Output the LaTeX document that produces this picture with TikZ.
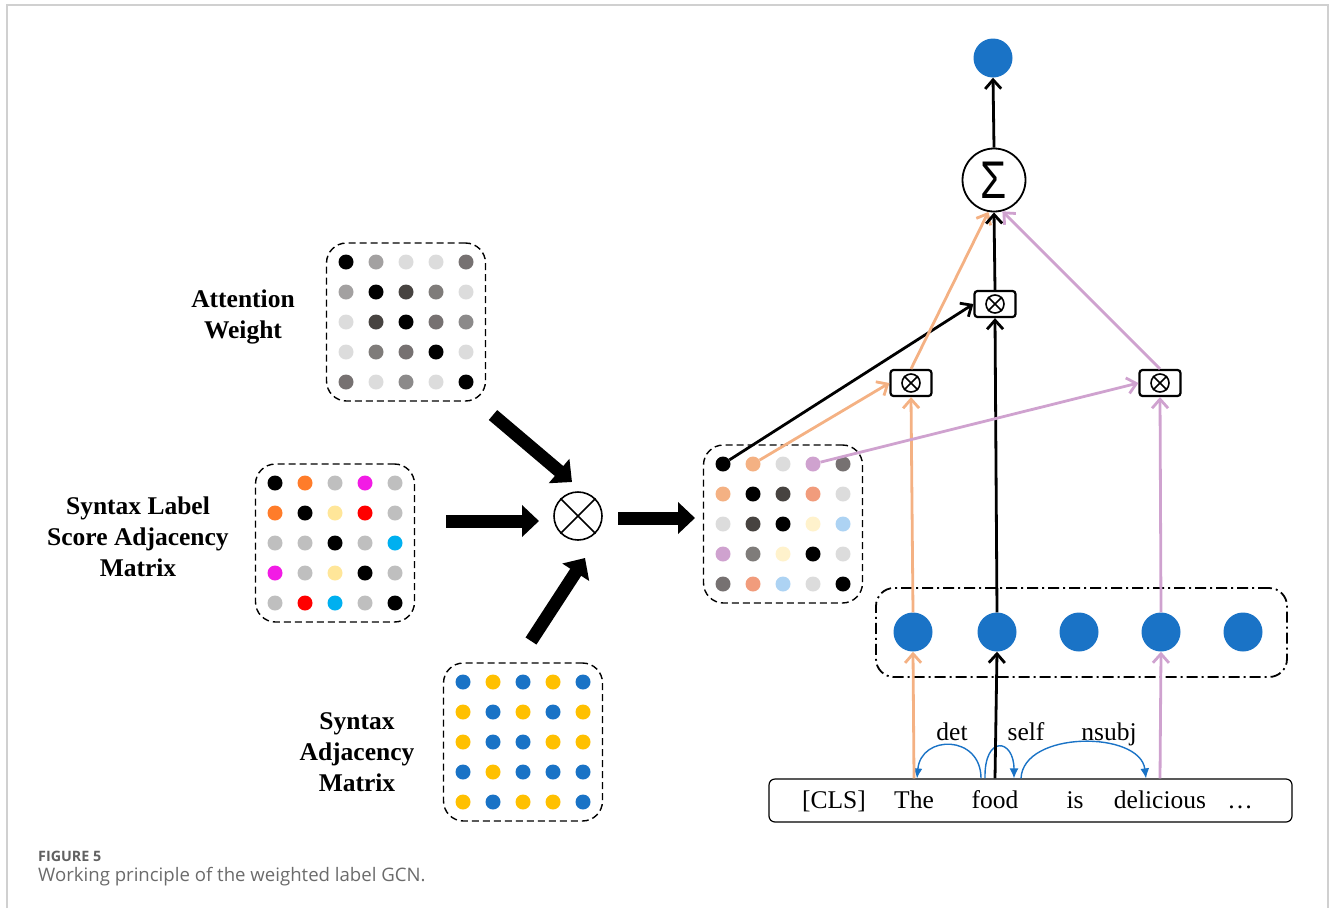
\documentclass[tikz,border=0pt]{standalone}
\usepackage{fontspec}
\setmainfont{Liberation Serif}
\newfontfamily\capfont{Open Sans}
\newfontfamily\sigfont{Liberation Sans}
\usetikzlibrary{arrows.meta,calc}

\definecolor{gA}{HTML}{DCDCDC}
\definecolor{gB}{HTML}{A3A1A1}
\definecolor{gC}{HTML}{767171}
\definecolor{gD}{HTML}{474340}
\definecolor{gE}{HTML}{7F7C7A}
\definecolor{gF}{HTML}{8C8A8A}
\definecolor{lgray}{HTML}{BFBFBF}
\definecolor{sorange}{HTML}{FF7C2A}
\definecolor{smag}{HTML}{F21BE5}
\definecolor{syel}{HTML}{FFE699}
\definecolor{sred}{HTML}{FF0000}
\definecolor{scyan}{HTML}{00B0F0}
\definecolor{ablue}{HTML}{1A73C6}
\definecolor{ayel}{HTML}{FFC000}
\definecolor{peach}{HTML}{F4B183}
\definecolor{lilac}{HTML}{CFA2CF}
\definecolor{salmon}{HTML}{F19C7C}
\definecolor{cream}{HTML}{FFF2CC}
\definecolor{lblue}{HTML}{ADD3F3}
\definecolor{framegray}{HTML}{D0D0D0}

\tikzset{
	dot/.style={circle, inner sep=0pt, minimum size=15pt},
	bigdot/.style={circle, inner sep=0pt, minimum size=39pt, fill=ablue},
	matbox/.style={draw, dash pattern=on 7pt off 4pt, line width=1.4pt, rounded corners=20pt, minimum width=159pt, minimum height=158pt},
	fatarrow/.style={line width=13pt, -{Triangle[length=17pt,width=31pt]}},
	link/.style={line width=2.8pt, -{Straight Barb[length=9pt,width=16pt]}},
	deparc/.style={ablue, line width=1.4pt, -{Latex[length=10pt,width=9pt]}},
	prodbox/.style={draw, line width=2.2pt, rounded corners=3pt, minimum width=41pt, minimum height=26pt, inner sep=0pt},
	label/.style={font=\bfseries\fontsize{25.5}{31}\selectfont, align=center},
	word/.style={font=\fontsize{25.5}{31}\selectfont, anchor=base}
}

% one row of five coloured dots
\def\dotrow#1#2#3#4{\foreach \c [count=\j] in {#4} \node[dot, fill=\c] (#1-\j) at ({#2+30*(\j-1)}, {#3}) {};}
% a dashed 5x5 matrix
\newcommand{\dotmatrix}[8]{%
	\node[matbox] (#1) at ({#2+60}, {#3+60}) {};
	\dotrow{#1-1}{#2}{#3}{#4}
	\dotrow{#1-2}{#2}{#3+30}{#5}
	\dotrow{#1-3}{#2}{#3+60}{#6}
	\dotrow{#1-4}{#2}{#3+90}{#7}
	\dotrow{#1-5}{#2}{#3+120}{#8}}
% small boxed otimes
\newcommand{\prodnode}[3]{%
	\node[prodbox] (#1) at (#2, #3) {};
	\node[draw, circle, line width=1.6pt, minimum size=18pt, inner sep=0pt] (#1c) at (#1) {};
	\draw[line width=1.6pt] (#1c.north west) -- (#1c.south east) (#1c.north east) -- (#1c.south west);}

\begin{document}
\begin{tikzpicture}[x=1pt, y=-1pt]
			%%%%% START %%%%%
			\useasboundingbox (0,0) rectangle (1330,908);
			\draw[framegray, line width=1.5pt] (7,908) -- (7,5) -- (1328,5) -- (1328,908);
			
			%%%%% input matrices
			\dotmatrix{att}{346}{262}{black,gB,gA,gA,gC}{gB,black,gD,gE,gA}{gA,gD,black,gC,gF}{gA,gE,gC,black,gA}{gC,gA,gF,gA,black}
			\node[label] (attlabel) at (243,317) {Attention\\Weight};
			
			\dotmatrix{lab}{275}{483}{black,sorange,lgray,smag,lgray}{sorange,black,syel,sred,lgray}{lgray,lgray,black,lgray,scyan}{smag,lgray,syel,black,lgray}{lgray,sred,scyan,lgray,black}
			\node[label] (lablabel) at (138,537) {Syntax Label\\Score Adjacency\\Matrix};
			
			\dotmatrix{adj}{463}{682}{ablue,ayel,ablue,ayel,ablue}{ayel,ablue,ayel,ablue,ayel}{ayel,ablue,ablue,ayel,ayel}{ablue,ayel,ablue,ablue,ablue}{ayel,ablue,ayel,ayel,ablue}
			\node[label] (adjlabel) at (357,752) {Syntax\\Adjacency\\Matrix};
			
			%%%%% product
			\node[draw, circle, line width=1.6pt, minimum size=48pt, inner sep=0pt] (mul) at (578,516) {};
			\draw[line width=1.6pt] (mul.north west) -- (mul.south east) (mul.north east) -- (mul.south west);
			
			\coordinate (attout) at (493,415);
			\coordinate (attin) at (572,482);
			\coordinate (labout) at (446,521);
			\coordinate (labin) at (539,521);
			\coordinate (adjout) at (531,641);
			\coordinate (adjin) at (585,558);
			\coordinate (mulout) at (618,518);
			\coordinate (resin) at (695,518);
			\draw[fatarrow] (attout) -- (attin);
			\draw[fatarrow] (labout) -- (labin);
			\draw[fatarrow] (adjout) -- (adjin);
			\draw[fatarrow] (mulout) -- (resin);
			
			\dotmatrix{res}{723}{464}{black,peach,gA,lilac,gC}{peach,black,gD,salmon,gA}{gA,gD,black,cream,lblue}{lilac,gE,cream,black,gA}{gC,salmon,lblue,gA,black}
			
			%%%%% sentence
			\node[draw, line width=1.2pt, rounded corners=6pt, minimum width=523pt, minimum height=43pt] (sent) at (1030.5,800.5) {};
			\node[word] (cls) at (834,808) {[CLS]};
			\node[word] (the) at (914,808) {The};
			\node[word] (food) at (995,808) {food};
			\node[word] (is) at (1075,808) {is};
			\node[word] (deli) at (1160,808) {delicious};
			\node[word] (etc) at (1240,808) {\dots};
			
			\node[word] (det) at (952,740) {det};
			\node[word] (self) at (1026,740) {self};
			\node[word] (nsubj) at (1109,740) {nsubj};
			
			\draw[deparc] ($(food |- sent.north)+(-14,0)$) .. controls +(0,-44) and +(4,-44) .. ($(the |- sent.north)+(3,0)$);
			\draw[deparc] ($(food |- sent.north)+(-10,0)$) .. controls +(-1,-44) and +(0,-40) .. ($(food |- sent.north)+(19,0)$);
			\draw[deparc] ($(food |- sent.north)+(26,0)$) .. controls +(2,-48) and +(-6,-48) .. ($(deli |- sent.north)+(-14,0)$);
			
			%%%%% hidden states
			\node[draw, line width=1.8pt, rounded corners=18pt, dash pattern=on 11pt off 4pt on 2pt off 4pt, minimum width=411pt, minimum height=89pt] (hbox) at (1081.5,632.5) {};
			\node[bigdot] (h1) at (913,632) {};
			\node[bigdot] (h2) at (997,632) {};
			\node[bigdot] (h3) at (1079,632) {};
			\node[bigdot] (h4) at (1161,632) {};
			\node[bigdot] (h5) at (1243,632) {};
			
			\draw[link, peach] (the |- sent.north) -- (h1.south);
			\draw[link] (food |- sent.north) -- (h2.south);
			\draw[link, lilac] (deli |- sent.north) -- (h4.south);
			
			%%%%% weighting and sum
			\prodnode{p1}{911}{383}
			\prodnode{p2}{995}{304}
			\prodnode{p3}{1160}{383}
			
			\draw[link, peach] (h1.north) -- (p1.south);
			\draw[link] (h2.north) -- (p2.south);
			\draw[link, lilac] (h4.north) -- (p3.south);
			
			\draw[link] (res-1-1) -- (p2.west);
			\draw[link, peach] (res-1-2) -- (p1.west);
			\draw[link, lilac] (res-1-4) -- (p3.west);
			
			\node[draw, circle, line width=1.8pt, minimum size=63pt, inner sep=0pt] (sig) at (994,180) {\scalebox{0.8}[1]{\sigfont\fontsize{53}{53}\selectfont Σ}};
			\node[bigdot] (out) at (993,58) {};
			
			\draw[link, peach] (p1.north) -- (sig.-100);
			\draw[link] (p2.north) -- (sig.south);
			\draw[link, lilac] (p3.north) -- (sig.-75);
			\draw[link] (sig.north) -- (out.south);
			
			%%%%% caption
			\node[anchor=base west, font=\capfont\bfseries\fontsize{14.3}{16}\selectfont, text=black!62, inner sep=0pt] (fig) at (38,861) {FIGURE 5};
			\node[anchor=base west, font=\capfont\fontsize{18.6}{22}\selectfont, text=black!58, inner sep=0pt] (cap) at (38,881) {Working principle of the weighted label GCN.};
			%%%%% END %%%%%
\end{tikzpicture}
\end{document}
